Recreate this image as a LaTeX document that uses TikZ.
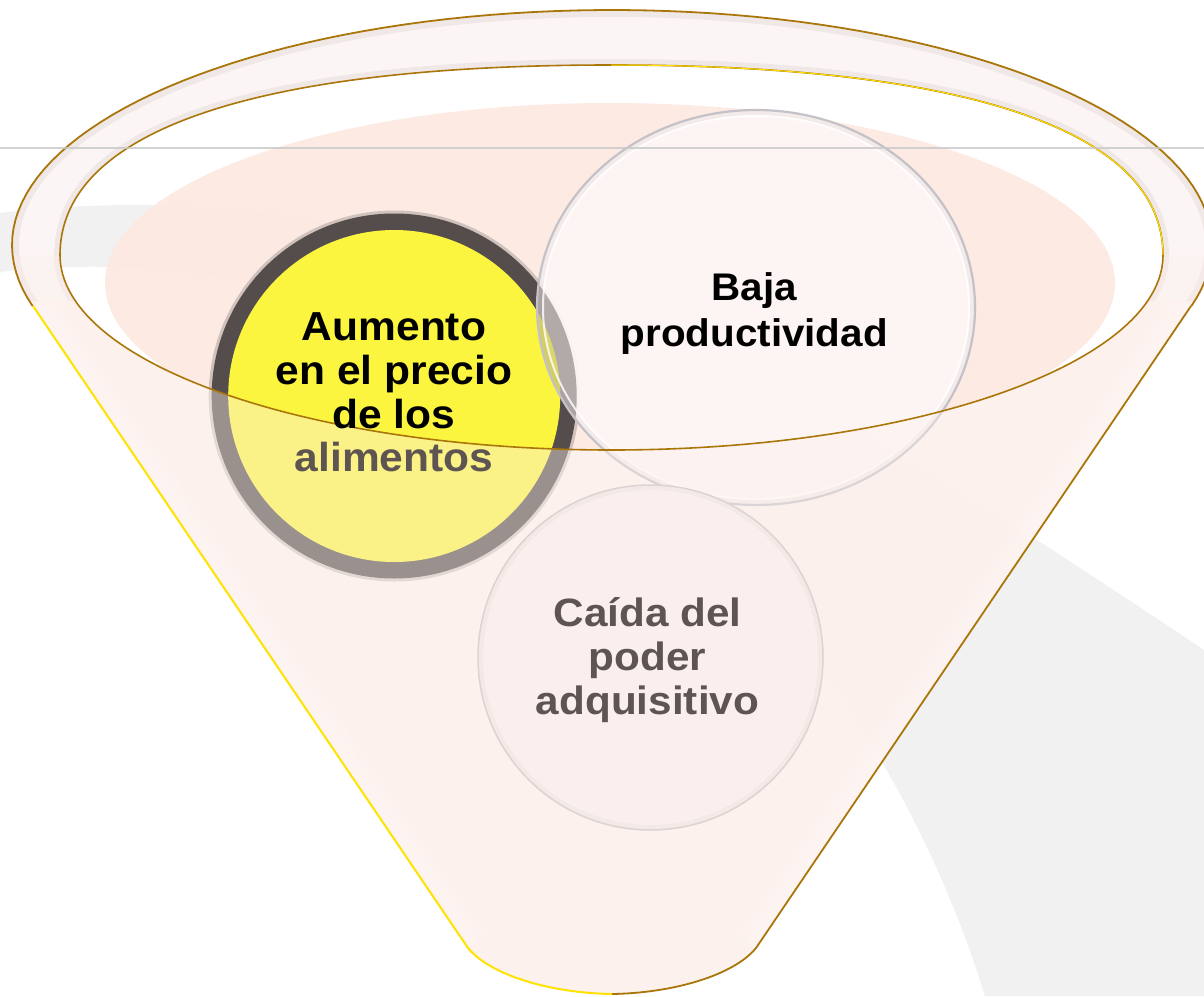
\documentclass[tikz,border=0pt]{standalone}
\usepackage{fontspec}
\setmainfont{Liberation Sans}
\usetikzlibrary{shapes.geometric}
\definecolor{conepink}{RGB}{253,242,238}
\definecolor{overpink}{RGB}{253,239,235}
\definecolor{innerpink}{RGB}{252,233,226}
\definecolor{rimwhite}{RGB}{251,247,246}
\definecolor{rimshade}{RGB}{228,217,214}
\definecolor{rimgold}{RGB}{170,118,10}
\definecolor{rimyellow}{RGB}{255,226,0}
\definecolor{swooshgray}{RGB}{241,241,241}
\definecolor{ringgray}{RGB}{84,77,75}
\definecolor{yellowfill}{RGB}{251,245,64}
\definecolor{textgray}{RGB}{94,84,82}
\definecolor{bajaedge}{RGB}{196,194,200}
\definecolor{bajafill}{RGB}{253,247,245}
\definecolor{caidafill}{RGB}{248,240,239}
\definecolor{caidaedge}{RGB}{200,190,192}
\definecolor{hlinegray}{RGB}{200,200,200}
\def\outerrim{(12,245) .. controls (12,115.2) and (280.6,10) .. (612,10) .. controls (943.4,10) and (1212,115.2) .. (1212,245) .. controls (1212,374.8) and (943.4,480) .. (612,480) .. controls (280.6,480) and (12,374.8) .. (12,245) -- cycle}
\def\innerrim{(60,255) .. controls (60,131.5) and (253,65) .. (611,65) .. controls (970,65) and (1163,131.5) .. (1163,255) .. controls (1163,362.7) and (916.1,450) .. (611.5,450) .. controls (306.9,450) and (60,362.7) .. (60,255) -- cycle}
\def\funnelsil{(33,306) -- plot[domain=195.1:-15.1, samples=100, variable=\t] ({612+600*cos(\t)},{245-235*sin(\t)}) -- (756,948) .. controls (734,975) and (674,993) .. (612,994) .. controls (550,993) and (490,975) .. (468,948) -- cycle}
\begin{document}
\begin{tikzpicture}[x=1pt,y=-1pt,line join=round,
  txt/.style={inner sep=0pt, outer sep=0pt},
  disc/.style={circle, inner sep=0pt, outer sep=0pt},
  glow/.style={white, opacity=0.22}]
\useasboundingbox (0,0) rectangle (1204,996);
\fill[white] (0,0) rectangle (1204,996);
% background swoosh
\fill[swooshgray] (0,213) .. controls (450,160) and (800,380) .. (1204,650) -- (1204,996) -- (985,996) .. controls (850,560) and (450,220) .. (0,272) -- cycle;
% funnel body
\fill[conepink, opacity=0.92, even odd rule] \funnelsil \innerrim;
\begin{scope}
  \clip \funnelsil;
  \foreach \w in {44,30,16} {
    \draw[glow, line width=\w] (33,306) -- (468,948);
    \draw[glow, line width=\w] (1191,306) -- (756,948);
  }
\end{scope}
% rim tube
\begin{scope}
  \clip (0,0) rectangle (1204,300);
  \fill[rimwhite, opacity=0.92, even odd rule] \outerrim \innerrim;
  \begin{scope}
    \clip \outerrim;
    \draw[rimshade, line width=14, opacity=0.45] \outerrim;
  \end{scope}
  \begin{scope}[even odd rule]
    \clip \outerrim \innerrim;
    \draw[rimshade, line width=12, opacity=0.45] \innerrim;
  \end{scope}
\end{scope}
% pink ellipse inside the opening
\begin{scope}
  \clip \innerrim;
  \fill[innerpink, opacity=0.95] (610,283) ellipse [x radius=505, y radius=180];
\end{scope}
% yellow circle
\node[disc, minimum size=371, fill=ringgray, opacity=0.25] (yhalo) at (394.2,396) {};
\node[disc, minimum size=365, fill=ringgray] (yring) at (394.2,396) {};
\node[disc, minimum size=332, fill=yellowfill] (yfill) at (yring.center) {};
% Baja circle
\node[ellipse, inner sep=0pt, minimum width=438, minimum height=395, fill=bajafill, fill opacity=0.92] (baja) at (756,307.5) {};
\begin{scope}
  \clip (baja.center) ellipse [x radius=219, y radius=197.5];
  \fill[ringgray, opacity=0.4] (yring.center) circle [radius=182.5];
  \fill[yellowfill, opacity=0.55] (yring.center) circle [radius=166];
  \draw[black, line width=10, opacity=0.04] (baja.center) ellipse [x radius=219, y radius=197.5];
\end{scope}
\draw[bajaedge, line width=2.2] (baja.center) ellipse [x radius=219, y radius=197.5];
\draw[white, line width=2, opacity=0.8] (baja.center) ellipse [x radius=213, y radius=191.5];
% Caida circle
\node[disc, minimum size=345, fill=caidafill, draw=caidaedge, line width=1.5] (caida) at (650.5,657.5) {};
\begin{scope}
  \clip (caida.center) circle [radius=172.5];
  \draw[caidaedge, line width=10, opacity=0.22] (caida.center) circle [radius=172.5];
\end{scope}
% front of the funnel
\begin{scope}
  \clip (0,255) rectangle (1204,996);
  \fill[overpink, opacity=0.42, even odd rule] \funnelsil \innerrim;
\end{scope}
% outlines
\draw[rimgold, line width=1.8] plot[domain=195.1:-15.1, samples=100, variable=\t] ({612+600*cos(\t)},{245-235*sin(\t)});
\draw[rimgold, line width=1.8] (1191,306) -- (756,948) .. controls (734,975) and (674,993) .. (612,994);
\draw[rimyellow, line width=2] (33,306) -- (468,948) .. controls (490,975) and (550,993) .. (612,994);
\draw[rimgold, line width=1.6] \innerrim;
\draw[rimyellow, line width=1] (611,65) .. controls (970,65) and (1163,131.5) .. (1163,255);
% texts
\node[txt] (t1) at (394,397.5) {\fontsize{40.5}{43.7}\selectfont\bfseries\scalebox{1.05}[1]{\begin{tabular}{@{}c@{}}Aumento\\en el precio\\de los\\\textcolor{textgray}{alimentos}\end{tabular}}};
\node[txt] (t2) at (754.2,313.8) {\fontsize{38.5}{46}\selectfont\bfseries\scalebox{1.05}[1]{\begin{tabular}{@{}c@{}}Baja\\productividad\end{tabular}}};
\node[txt, text=textgray] (t3) at (647.5,662) {\fontsize{39.5}{44}\selectfont\bfseries\scalebox{1.07}[1]{\begin{tabular}{@{}c@{}}Caída del\\poder\\adquisitivo\end{tabular}}};
% thin horizontal line
\coordinate (gl) at (0,148);
\coordinate (gr) at (1204,148);
\draw[hlinegray, line width=1.3, opacity=0.8] (gl) -- (gr);
\end{tikzpicture}
\end{document}
